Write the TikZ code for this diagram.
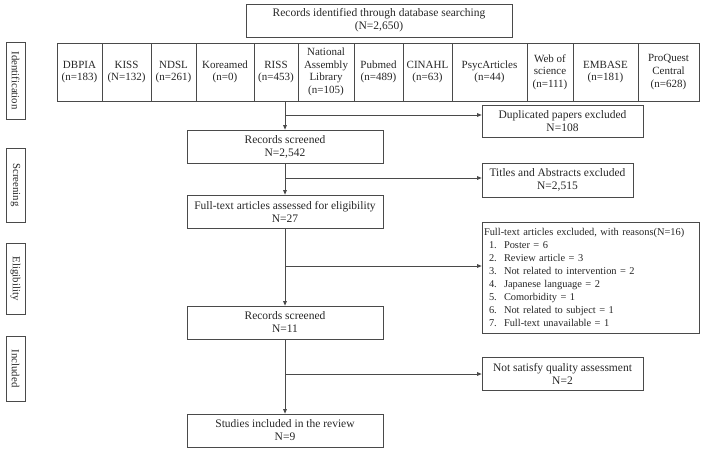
\documentclass[tikz,border=0pt]{standalone}
\usepackage{fontspec}
\setmainfont{Liberation Serif}
\usetikzlibrary{arrows.meta}
\definecolor{ln}{HTML}{4A4A4A}
\definecolor{tx}{HTML}{262626}
\begin{document}
\begin{tikzpicture}[x=1pt,y=-1pt,
  box/.style={draw=ln, line width=0.7pt, inner sep=1pt, align=center, text=tx,
    font=\fontsize{11.5}{13}\selectfont},
  db/.style={box, minimum height=58pt, font=\fontsize{11}{12.6}\selectfont},
  side/.style={box, rotate=-90, minimum height=19pt, font=\fontsize{10.8}{11}\selectfont},
  arr/.style={draw=ln, line width=0.8pt, -{Triangle[length=4.5pt,width=3.6pt]}},
  ln/.style={draw=ln, line width=0.8pt}]
\useasboundingbox (0,0) rectangle (706,452);
% top
\node[box, minimum width=266pt, minimum height=33pt] (top) at (379,20.5)
  {Records identified through database searching\\(N=2,650)};
% database row
\node[db, minimum width=45pt] (dbpia) at (79.5,72) {DBPIA\\(n=183)};
\node[db, minimum width=49pt] (kiss) at (126.5,72) {KISS\\(N=132)};
\node[db, minimum width=45pt] (ndsl) at (173.5,72) {NDSL\\(n=261)};
\node[db, minimum width=58pt] (korea) at (225,72) {Koreamed\\(n=0)};
\node[db, minimum width=44pt] (riss) at (276,72) {RISS\\(n=453)};
\node[db, minimum width=56pt] (nal) at (326,72) {National\\Assembly\\Library\\(n=105)};
\node[db, minimum width=49pt] (pub) at (378.5,72) {Pubmed\\(n=489)};
\node[db, minimum width=49pt] (cin) at (427.5,72) {CINAHL\\(n=63)};
\node[db, minimum width=75pt] (psyc) at (489.5,72) {PsycArticles\\(n=44)};
\node[db, minimum width=46pt] (wos) at (550,72) {Web of\\science\\(n=111)};
\node[db, minimum width=65pt] (emb) at (605.5,72) {EMBASE\\(n=181)};
\node[db, minimum width=61pt] (pq) at (668.5,72) {ProQuest\\Central\\(n=628)};
% side labels
\node[side, minimum width=77pt] (sid) at (15.5,80.5) {Identification};
\node[side, minimum width=74pt] (sscr) at (15.5,185) {Screening};
\node[side, minimum width=71pt] (selig) at (15.5,278.5) {Eligibility};
\node[side, minimum width=65pt] (sinc) at (15.5,368.5) {Included};
% main column
\node[box, minimum width=196pt, minimum height=33pt] (rs) at (285,146.5) {Records screened\\N=2,542};
\node[box, minimum width=196pt, minimum height=33pt] (fta) at (285,211.5) {Full-text articles assessed for eligibility\\N=27};
\node[box, minimum width=196pt, minimum height=33pt] (rs2) at (285,322.5) {Records screened\\N=11};
\node[box, minimum width=196pt, minimum height=33pt] (inc) at (285,430.5) {Studies included in the review\\N=9};
% exclusion boxes
\node[box, minimum width=161pt, minimum height=32pt] (dup) at (562.5,121) {Duplicated papers excluded\\N=108};
\node[box, minimum width=151pt, minimum height=34pt] (tae) at (557.5,180) {Titles and Abstracts excluded\\N=2,515};
\node[box, minimum width=217pt, minimum height=111pt, inner xsep=2pt, text width=213pt, align=left,
  font=\fontsize{10.4}{13}\selectfont] (fte) at (590.5,277.5)
  {Full-text articles excluded, with reasons(N=16)\\
   \makebox[20pt][l]{\hspace{5pt}1.}Poster = 6\\
   \makebox[20pt][l]{\hspace{5pt}2.}Review article = 3\\
   \makebox[20pt][l]{\hspace{5pt}3.}Not related to intervention = 2\\
   \makebox[20pt][l]{\hspace{5pt}4.}Japanese language = 2\\
   \makebox[20pt][l]{\hspace{5pt}5.}Comorbidity = 1\\
   \makebox[20pt][l]{\hspace{5pt}6.}Not related to subject = 1\\
   \makebox[20pt][l]{\hspace{5pt}7.}Full-text unavailable = 1};
\node[box, minimum width=161pt, minimum height=33pt] (nsq) at (562.5,373.5) {Not satisfy quality assessment\\N=2};
% connectors
\draw[arr] (riss.south -| rs.north) -- (rs.north);
\draw[arr] (rs.south) -- (fta.north);
\draw[arr] (fta.south) -- (rs2.north);
\draw[arr] (rs2.south) -- (inc.north);
\coordinate (b1) at (285,115);
\coordinate (b2) at (285,178);
\coordinate (b3) at (285,266);
\coordinate (b4) at (285,374);
\draw[arr] (b1) -- (b1 -| dup.west);
\draw[arr] (b2) -- (b2 -| tae.west);
\draw[arr] (b3) -- (b3 -| fte.west);
\draw[arr] (b4) -- (b4 -| nsq.west);
\end{tikzpicture}
\end{document}
